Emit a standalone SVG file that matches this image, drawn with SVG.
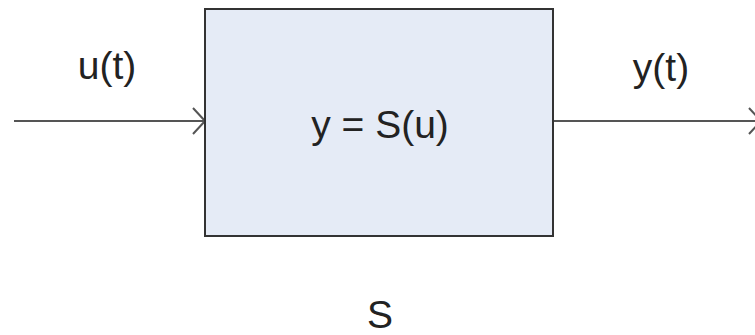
<svg xmlns="http://www.w3.org/2000/svg" width="755" height="335" viewBox="0 0 755 335">
<style>
.lbl{font-family:"Liberation Sans",Arial,sans-serif;font-size:39px;fill:#222;text-anchor:middle}
.box{fill:#e5ebf6;stroke:#333;stroke-width:2}
.conn{stroke:#555;stroke-width:2;fill:none}
</style>
<defs>
<marker id="chev" markerWidth="14" markerHeight="30" refX="13" refY="15" orient="auto" markerUnits="userSpaceOnUse">
<path d="M1,2 L13,15 L1,28" fill="none" stroke="#555" stroke-width="2"/>
</marker>
</defs>
<g id="connectors">
<line class="conn" x1="14" y1="121" x2="205" y2="121" marker-end="url(#chev)"/>
<line class="conn" x1="553" y1="121" x2="761" y2="121" marker-end="url(#chev)"/>
<text class="lbl" x="107" y="79">u(t)</text>
<text class="lbl" x="661" y="81">y(t)</text>
</g>
<g id="system">
<rect class="box" x="205" y="9" width="348" height="227"/>
<text class="lbl" x="380" y="138">y = S(u)</text>
<text class="lbl" x="380" y="328">S</text>
</g>
</svg>
